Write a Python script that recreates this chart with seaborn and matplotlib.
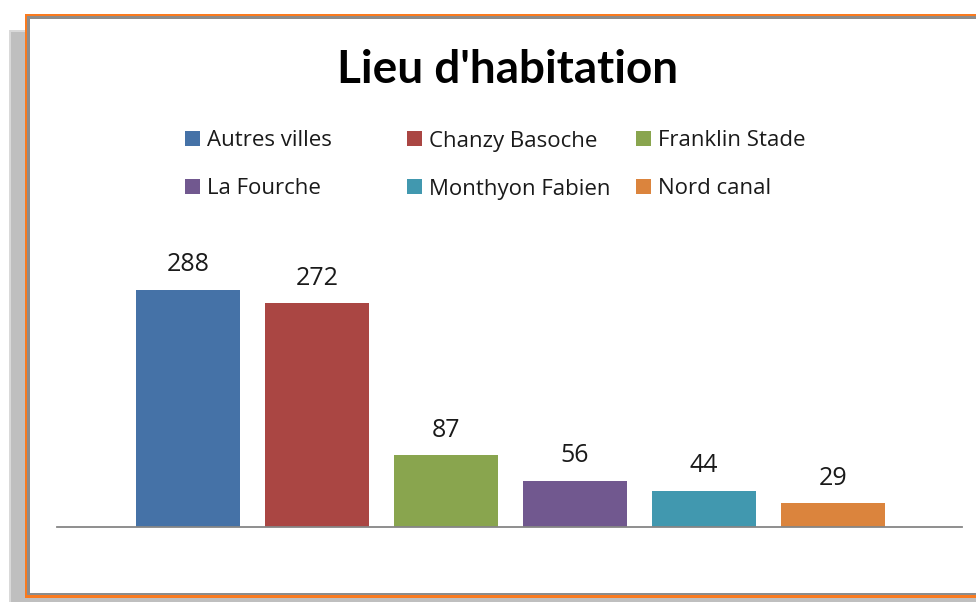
import matplotlib
matplotlib.use("Agg")
import matplotlib.pyplot as plt
from matplotlib.patches import Rectangle, Patch
import seaborn as sns
import pandas as pd

# chart data
lieux = ['Autres villes', 'Chanzy Basoche', 'Franklin Stade',
         'La Fourche', 'Monthyon Fabien', 'Nord canal']
effectifs = [288, 272, 87, 56, 44, 29]
couleurs = ['#4572A7', '#AA4643', '#89A54E', '#71588F', '#4198AF', '#DB843D']

W, H = 976, 602

def fx(x):
    return x / W

def fy(y):
    return 1 - y / H

sns.set_theme(style='white')
plt.rcParams['font.family'] = ['Open Sans', 'DejaVu Sans']

fig = plt.figure(figsize=(W / 100, H / 100), dpi=100)
fig.patch.set_facecolor('white')

# screenshot frame: grey panel behind, orange + grey border, white chart area
def rect(x0, y0, x1, y1, color, z):
    fig.patches.append(Rectangle((fx(x0), fy(y1)), fx(x1 - x0), (y1 - y0) / H,
                                 transform=fig.transFigure, facecolor=color,
                                 edgecolor='none', zorder=z))

rect(9, 30, 1000, 620, '#d9d9d9', -10)
rect(11, 32, 1000, 620, '#bfbfbf', -9)
rect(25, 14, 1000, 598, '#f97a1f', -8)
rect(27, 16, 1000, 595, '#8c8c8c', -7)
rect(30, 19, 1000, 593, 'white', -6)

df = pd.DataFrame({'lieu': lieux, 'n': effectifs})

ax = fig.add_axes([fx(57), fy(527), fx(962 - 57), (527 - 240) / H])
ax.set_facecolor('none')
sns.barplot(data=df, x='lieu', y='n', hue='lieu', palette=couleurs,
            dodge=False, legend=False, width=0.8, saturation=1,
            linewidth=0, ax=ax)
for c in ax.containers:
    ax.bar_label(c, padding=9, fontsize=18, color='#1a1a1a')

ax.set_xlim(-1.016, 6.0)
ax.set_ylim(0, 348.7)
ax.set_xticks([])
ax.set_yticks([])
ax.set_xlabel('')
ax.set_ylabel('')
for s in ['top', 'right', 'left']:
    ax.spines[s].set_visible(False)
ax.spines['bottom'].set_color('#868686')
ax.spines['bottom'].set_linewidth(1.3)

fig.text(fx(508), fy(70), "Lieu d'habitation", ha='center', va='center',
         fontsize=33, fontweight='bold', color='black', family=['Lato', 'DejaVu Sans'])

# legend, laid out like the original (3 columns, 2 rows)
pos_x = [185, 407, 636, 185, 407, 636]
pos_y = [141, 141, 141, 189, 189, 189]
for nom, col, x, y in zip(lieux, couleurs, pos_x, pos_y):
    fig.legend(handles=[Patch(facecolor=col, edgecolor='none')], labels=[nom],
               loc='center left', bbox_to_anchor=(fx(x), fy(y)),
               frameon=False, borderpad=0, borderaxespad=0,
               handlelength=0.67, handleheight=0.67, handletextpad=0.3,
               fontsize=16, labelcolor='#1a1a1a')

fig.savefig('out.png', dpi=100)
